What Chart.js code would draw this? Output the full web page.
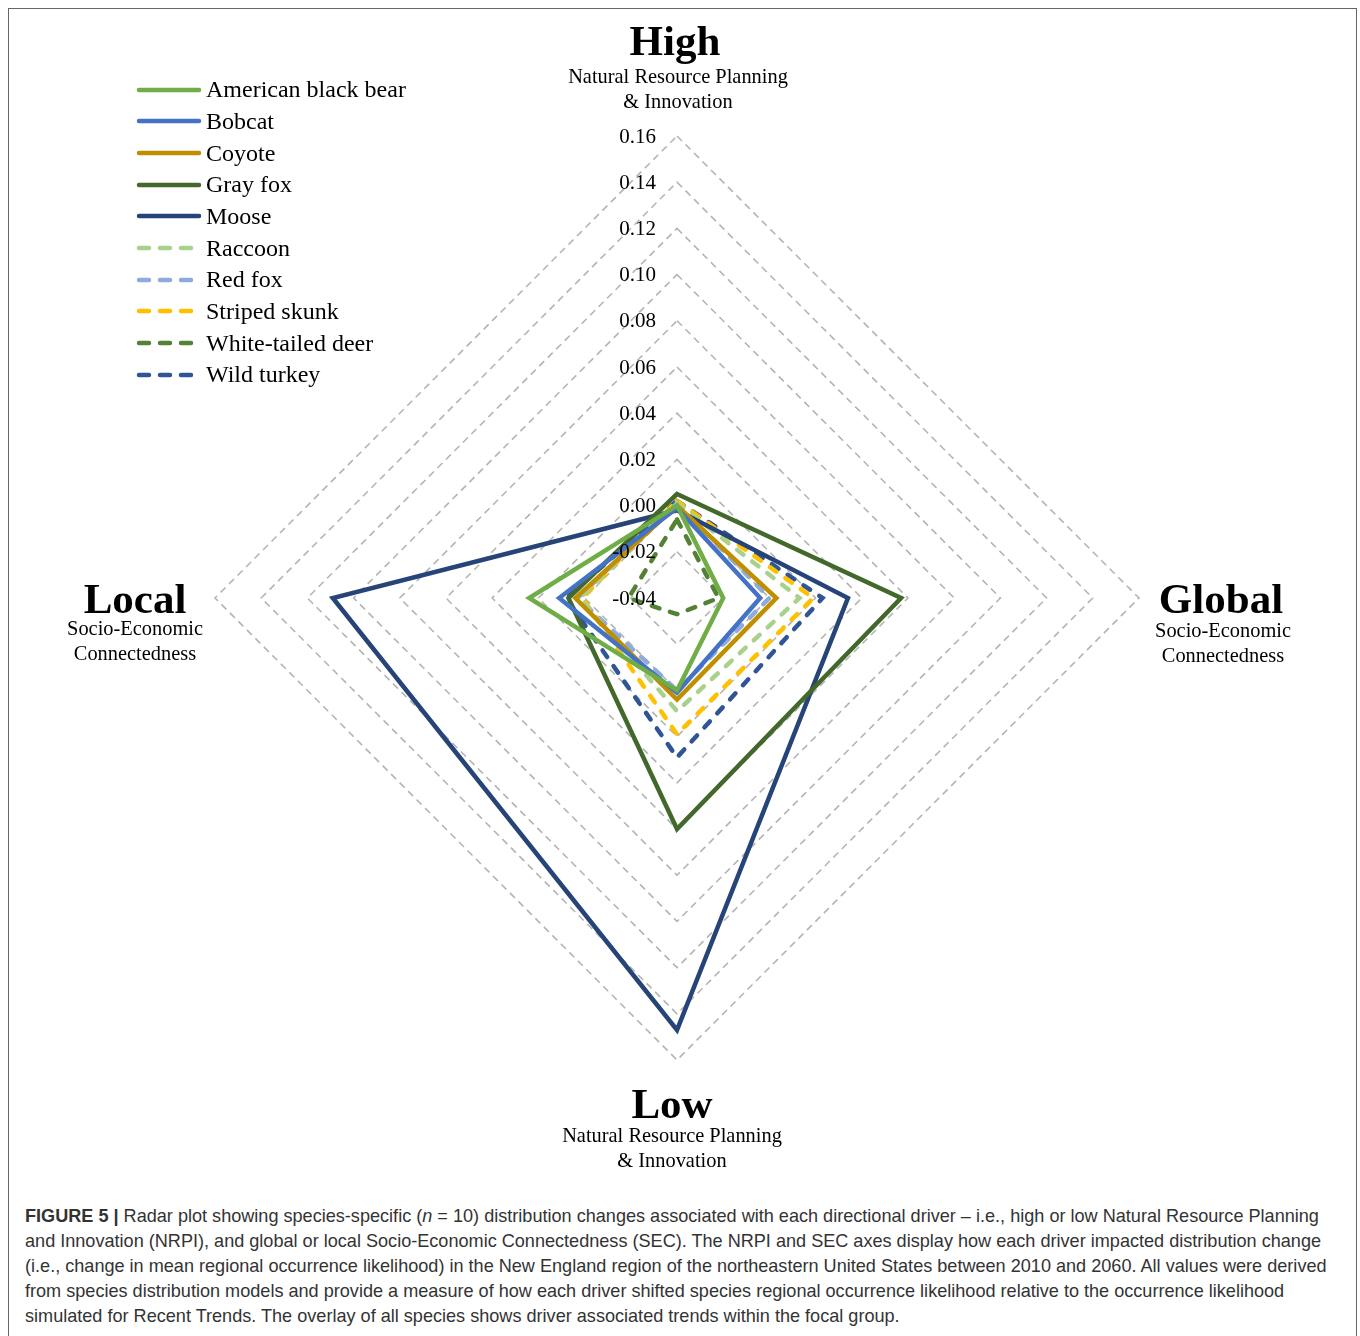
<!DOCTYPE html>
<html>
<head>
<meta charset="utf-8">
<title>Figure 5 - radar plot</title>
<script src="https://cdn.jsdelivr.net/npm/chart.js@4.4.0/dist/chart.umd.min.js"></script>
<style>
    html, body { margin: 0; padding: 0; background: #fff; }
    #page { position: relative; width: 1360px; height: 1336px; overflow: hidden; }
    #frame { position: absolute; left: 8px; top: 8px; width: 1347px; height: 1340px; border: 1px solid #666; }
    #wrapper { position: absolute; left: 0; top: 0; }
    .serif { font-family: "Liberation Serif", "Times New Roman", serif; color: #000; }
    .axTitle { position: absolute; text-align: center; white-space: nowrap; }
    .axTitle .big { font-size: 43px; font-weight: bold; line-height: 43px; }
    .axTitle .sub { font-size: 20.4px; line-height: 25px; }
    #legend { position: absolute; left: 136px; top: 74px; }
    .legRow { height: 31.67px; display: flex; align-items: center; font-size: 24px; white-space: nowrap; }
    .legRow svg { margin-right: 4px; }
    #caption { position: absolute; left: 25px; top: 1204px; font-family: "Liberation Sans", Arial, sans-serif;
               font-size: 18.1px; line-height: 25px; color: #333; }
    #caption div { white-space: nowrap; }
</style>
</head>
<body>
<div id="page">
    <div id="frame"></div>
    <div id="wrapper"><canvas id="grafico" width="1360" height="1200"></canvas></div>

    <div class="axTitle serif" style="left:475px; top:19px; width:400px;">
        <div class="big">High</div>
        <div class="sub" style="margin-top:2px; margin-left:6px;">Natural Resource Planning<br>&amp; Innovation</div>
    </div>
    <div class="axTitle serif" style="left:-65px; top:577px; width:400px;">
        <div class="big">Local</div>
        <div class="sub" style="margin-top:-4px;">Socio-Economic<br>Connectedness</div>
    </div>
    <div class="axTitle serif" style="left:1021px; top:577px; width:400px;">
        <div class="big">Global</div>
        <div class="sub" style="margin-top:-2px; margin-left:4px;">Socio-Economic<br>Connectedness</div>
    </div>
    <div class="axTitle serif" style="left:472px; top:1082px; width:400px;">
        <div class="big">Low</div>
        <div class="sub" style="margin-top:-2px;">Natural Resource Planning<br>&amp; Innovation</div>
    </div>

    <div id="legend" class="serif"></div>

    <div id="caption">
        <div><b>FIGURE 5 |</b> Radar plot showing species-specific (<i>n</i> = 10) distribution changes associated with each directional driver – i.e., high or low Natural Resource Planning</div>
        <div>and Innovation (NRPI), and global or local Socio-Economic Connectedness (SEC). The NRPI and SEC axes display how each driver impacted distribution change</div>
        <div>(i.e., change in mean regional occurrence likelihood) in the New England region of the northeastern United States between 2010 and 2060. All values were derived</div>
        <div>from species distribution models and provide a measure of how each driver shifted species regional occurrence likelihood relative to the occurrence likelihood</div>
        <div>simulated for Recent Trends. The overlay of all species shows driver associated trends within the focal group.</div>
    </div>
</div>

<script>
"use strict";

// assi del radar: in alto, destra, basso, sinistra
const axisLabels = ["High", "Global", "Low", "Local"];

// valori (High, Global, Low, Local)
const blackBear   = [0.000, -0.020, 0.000, 0.024];
const bobcat      = [-0.001, -0.004, 0.001, 0.011];
const coyote      = [0.000, 0.003, 0.004, 0.004];
const grayFox     = [0.005, 0.057, 0.060, 0.007];
const moose       = [-0.002, 0.034, 0.147, 0.109];
const raccoon     = [0.001, 0.013, 0.009, 0.002];
const redFox      = [0.001, 0.000, 0.000, 0.003];
const stripedSkunk = [0.002, 0.019, 0.019, 0.001];
const whiteDeer   = [-0.006, -0.022, -0.033, -0.019];
const wildTurkey  = [0.002, 0.023, 0.029, 0.008];

const speciesNames = ["American black bear", "Bobcat", "Coyote", "Gray fox", "Moose",
    "Raccoon", "Red fox", "Striped skunk", "White-tailed deer", "Wild turkey"];
const speciesValues = [blackBear, bobcat, coyote, grayFox, moose,
    raccoon, redFox, stripedSkunk, whiteDeer, wildTurkey];

// scala radiale
const tickMin = -0.04;
const tickMax = 0.16;
const tickStep = 0.02;

// stile delle serie
const colors = ["#70AD47", "#4472C4", "#BF8F00", "#43682B", "#264478",
    "#A9D18E", "#8FAADC", "#FFC000", "#548235", "#2F5597"];
const dashed = [false, false, false, false, false, true, true, true, true, true];

window.onload = function() {
    let _canvas = document.getElementById("grafico");

    let datasets = [];
    for (let i = 0; i < speciesNames.length; i++) {
        datasets.push({
            "label": speciesNames[i],
            "data": speciesValues[i],
            "borderColor": colors[i],
            "backgroundColor": colors[i],
            "borderWidth": 4.5,
            "borderDash": dashed[i] ? [8, 11] : [],
            "borderCapStyle": dashed[i] ? "round" : "butt",
            "borderJoinStyle": "miter",
            "fill": false,
            "pointRadius": 0,
            "pointHoverRadius": 0,
            "tension": 0
        });
    }

    // etichette dei tick a sinistra dell'asse verticale
    const tickLabels = {
        id: "tickLabels",
        afterDatasetsDraw(chart) {
            let r = chart.scales.r;
            let ctx = chart.ctx;
            ctx.save();
            ctx.font = "21px 'Liberation Serif', 'Times New Roman', serif";
            ctx.fillStyle = "#000";
            ctx.textAlign = "right";
            ctx.textBaseline = "middle";
            for (const t of r.ticks) {
                let v = Math.abs(t.value) < 1e-9 ? 0 : t.value;
                let y = r.yCenter - r.getDistanceFromCenterForValue(t.value);
                ctx.fillText(v.toFixed(2), r.xCenter - 21, y + 1);
            }
            ctx.restore();
        }
    };

    let chart = new Chart(_canvas, {
        type: "radar",
        data: {
            "labels": axisLabels,
            "datasets": datasets
        },
        options: {
            responsive: false,
            animation: false,
            layout: { padding: { left: 215, right: 221, top: 136, bottom: 140 } },
            plugins: {
                legend: { display: false },
                tooltip: { enabled: false }
            },
            elements: { line: { tension: 0 } },
            scales: {
                r: {
                    min: tickMin,
                    max: tickMax,
                    startAngle: 0,
                    angleLines: { display: false },
                    pointLabels: { display: false },
                    grid: { circular: false, color: "#b4b4b4", lineWidth: 1.6 },
                    border: { dash: [7, 5] },
                    ticks: { display: false, stepSize: tickStep }
                }
            }
        },
        plugins: [tickLabels]
    });

    // legenda html costruita dai dataset
    let legend = document.getElementById("legend");
    for (let i = 0; i < speciesNames.length; i++) {
        let row = document.createElement("div");
        row.className = "legRow";
        let dash = dashed[i] ? ' stroke-dasharray="10 11"' : "";
        row.innerHTML = '<svg width="66" height="10"><line x1="3" y1="5" x2="63" y2="5" stroke="' + colors[i] +
            '" stroke-width="4.5" stroke-linecap="round"' + dash + '/></svg><span>' + speciesNames[i] + '</span>';
        legend.appendChild(row);
    }
};
</script>
</body>
</html>
